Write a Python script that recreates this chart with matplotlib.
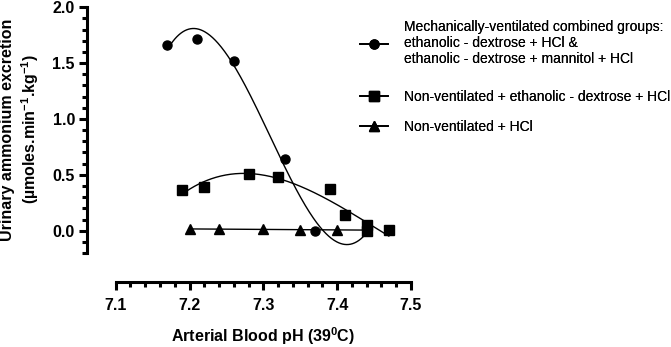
import numpy as np
import matplotlib
matplotlib.use("Agg")
import matplotlib.pyplot as plt
from matplotlib.ticker import FixedLocator

plt.rcParams['font.family'] = ['Liberation Sans', 'DejaVu Sans']
plt.rcParams['font.weight'] = 'bold'
plt.rcParams['axes.labelweight'] = 'bold'
plt.rcParams['mathtext.fontset'] = 'custom'
plt.rcParams['mathtext.rm'] = 'Liberation Sans:bold'
plt.rcParams['mathtext.default'] = 'rm'

# mechanically-ventilated combined groups (circles)
vent_ph = [7.17, 7.21, 7.26, 7.33, 7.37, 7.44]
vent_nh4 = [1.66, 1.72, 1.52, 0.64, 0.00, 0.00]

# non-ventilated + ethanolic-dextrose + HCl (squares)
ed_ph = [7.19, 7.22, 7.28, 7.32, 7.39, 7.41, 7.44, 7.44, 7.47]
ed_nh4 = [0.36, 0.39, 0.51, 0.48, 0.37, 0.14, 0.05, 0.00, 0.01]

# non-ventilated + HCl (triangles)
hcl_ph = [7.20, 7.24, 7.30, 7.35, 7.40, 7.44]
hcl_nh4 = [0.015, 0.015, 0.012, 0.008, 0.008, 0.005]

x_ticks = [7.1, 7.2, 7.3, 7.4, 7.5]
y_ticks = [0.0, 0.5, 1.0, 1.5, 2.0]

labels = [
    "Mechanically-ventilated combined groups:\nethanolic - dextrose + HCl &\nethanolic - dextrose + mannitol + HCl",
    "Non-ventilated + ethanolic - dextrose + HCl",
    "Non-ventilated + HCl",
]

fig = plt.figure(figsize=(6.71, 3.47), dpi=100)
ax = fig.add_axes([0.1304, 0.1882, 0.4931, 0.7908])

series = [
    (vent_ph, vent_nh4, 'o', 6.5, 3),
    (ed_ph, ed_nh4, 's', 7, 3),
    (hcl_ph, hcl_nh4, '^', 7, 1),
]

handles = []
for xs, ys, mk, ms, deg in series:
    xs = np.array(xs)
    ys = np.array(ys)
    coef = np.polyfit(xs - 7.3, ys, deg)
    xx = np.linspace(xs.min(), xs.max(), 300)
    ax.plot(xx, np.polyval(coef, xx - 7.3), color='black', lw=1.0, clip_on=False)
    ax.plot(xs, ys, mk, color='black', ms=ms, clip_on=False)
    h, = ax.plot([], [], color='black', lw=1.3, marker=mk, ms=ms)
    handles.append(h)

ax.set_xlim(7.0618, 7.51)
ax.set_ylim(-0.4566, 2.0)

for s in ['top', 'right']:
    ax.spines[s].set_visible(False)
ax.spines['left'].set_bounds(-0.2, 2.0)
ax.spines['bottom'].set_bounds(7.1, 7.5)
for s in ['left', 'bottom']:
    ax.spines[s].set_linewidth(2.2)

ax.set_xticks(x_ticks)
ax.set_yticks(y_ticks)
# minor ticks only inside the drawn axis lines
ax.xaxis.set_minor_locator(FixedLocator(np.arange(7.1, 7.5001, 0.02)))
ax.yaxis.set_minor_locator(FixedLocator(np.arange(-0.2, 2.0001, 0.1)))
ax.set_xticklabels([f"{v:.1f}" for v in x_ticks])
ax.set_yticklabels([f"{v:.1f}" for v in y_ticks])
ax.tick_params(which='major', length=6, width=2.2, labelsize=11.5, pad=3)
ax.tick_params(which='minor', length=3.5, width=2.2)
ax.tick_params(axis='x', which='major', pad=6)

ax.set_xlabel("Arterial Blood pH (39$^{0}$C)", fontsize=11.5)
ax.xaxis.set_label_coords(0.5315, -0.16)
ax.set_ylabel("Urinary ammonium excretion\n(\u00b5moles.min$^{-1}$.kg$^{-1}$)",
              fontsize=11.5, linespacing=1.2)
ax.yaxis.set_label_coords(-0.142, 0.555)

# one legend per entry to match the uneven spacing of the original
for h, lab, yc in zip(handles, labels, [0.876, 0.7205, 0.634]):
    leg = fig.legend([h], [lab], loc='center left', bbox_to_anchor=(360 / 671, yc),
                     frameon=False, prop={'size': 10, 'weight': 'normal'},
                     borderpad=0, borderaxespad=0,
                     handlelength=2.0, handletextpad=1.2, labelspacing=0.2)
    for t in leg.get_texts():
        t.set_linespacing(1.15)
    fig.add_artist(leg)

fig.savefig("out.png", dpi=100)
